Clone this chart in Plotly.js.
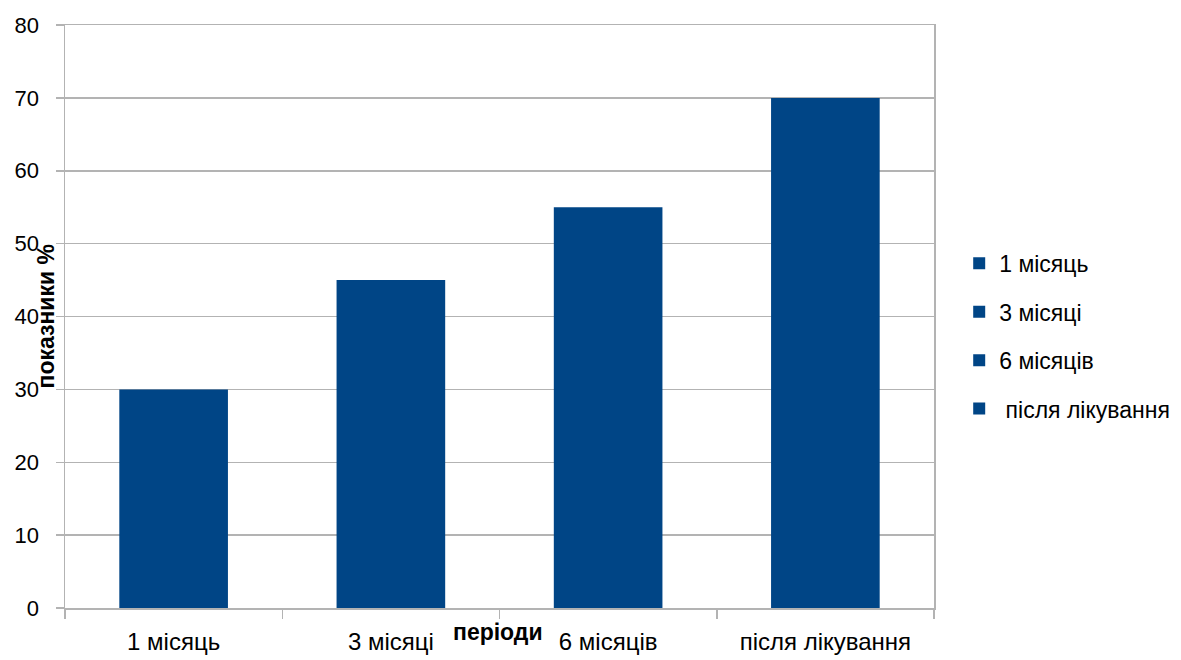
<!DOCTYPE html>
<html>
<head>
<meta charset="utf-8">
<script src="https://cdn.plot.ly/plotly-3.0.1.min.js"></script>
<style>html,body{margin:0;padding:0;background:#fff;}#chart{width:1181px;height:660px;}</style>
</head>
<body>
<div id="chart"></div>
<script>
const categories = ["1 місяць", "3 місяці", "6 місяців", "після лікування"];
const legendNames = ["1 місяць", "3 місяці", "6 місяців", " після лікування"];
const values = [30, 45, 55, 70];
const yTicks = [0, 10, 20, 30, 40, 50, 60, 70, 80];
const xTitle = "періоди";
const yTitle = "показники %";

const barColor = "#004586";
const gridColor = "#b3b3b3";
const fontFam = "Liberation Sans, Arial, sans-serif";

const traces = categories.map((c, i) => ({
  type: "bar",
  x: [c],
  y: [values[i]],
  name: legendNames[i],
  legendgroup: "g" + i,
  marker: {color: barColor, line: {width: 0}},
  width: 0.5,
  hoverinfo: "x+y"
}));

const layout = {
  width: 1181,
  height: 660,
  margin: {l: 65, r: 247, t: 25, b: 52, autoexpand: false},
  paper_bgcolor: "#fff",
  plot_bgcolor: "#fff",
  barmode: "overlay",
  showlegend: true,
  font: {family: fontFam, color: "#000"},
  legend: {
    x: 1.029, xanchor: "left",
    y: 0.628, yanchor: "top",
    traceorder: "grouped",
    tracegroupgap: 15.5,
    font: {size: 23, family: fontFam, color: "#000"},
    bgcolor: "rgba(0,0,0,0)"
  },
  xaxis: {
    type: "category",
    categoryarray: categories,
    categoryorder: "array",
    range: [-0.5, 3.5],
    showgrid: false,
    showline: true,
    linecolor: gridColor,
    linewidth: 1.5,
    mirror: true,
    ticks: "outside",
    tickson: "boundaries",
    ticklen: 9,
    tickcolor: gridColor,
    tickwidth: 1.5,
    ticklabelstandoff: 12,
    tickfont: {size: 24, family: fontFam, color: "#000"},
    fixedrange: true
  },
  yaxis: {
    range: [0, 80],
    tickvals: yTicks,
    ticktext: yTicks.map(String),
    showgrid: true,
    gridcolor: gridColor,
    gridwidth: 1.5,
    zeroline: false,
    showline: true,
    linecolor: gridColor,
    linewidth: 1.5,
    mirror: true,
    ticks: "outside",
    ticklen: 8,
    tickcolor: gridColor,
    tickwidth: 1.5,
    ticklabelstandoff: 12,
    tickfont: {size: 22, family: fontFam, color: "#000"},
    fixedrange: true
  },
  annotations: [
    {
      text: "<b>" + xTitle + "</b>",
      xref: "paper", yref: "paper",
      x: 0.498, y: -0.015,
      xanchor: "center", yanchor: "top",
      showarrow: false,
      font: {size: 23, family: fontFam, color: "#000"}
    },
    {
      text: "<b>" + yTitle + "</b>",
      xref: "paper", yref: "paper",
      x: -0.023, y: 0.5,
      xanchor: "center", yanchor: "middle",
      textangle: -90,
      showarrow: false,
      font: {size: 23, family: fontFam, color: "#000"}
    }
  ]
};

Plotly.newPlot("chart", traces, layout, {displayModeBar: false, staticPlot: true});
</script>
</body>
</html>
